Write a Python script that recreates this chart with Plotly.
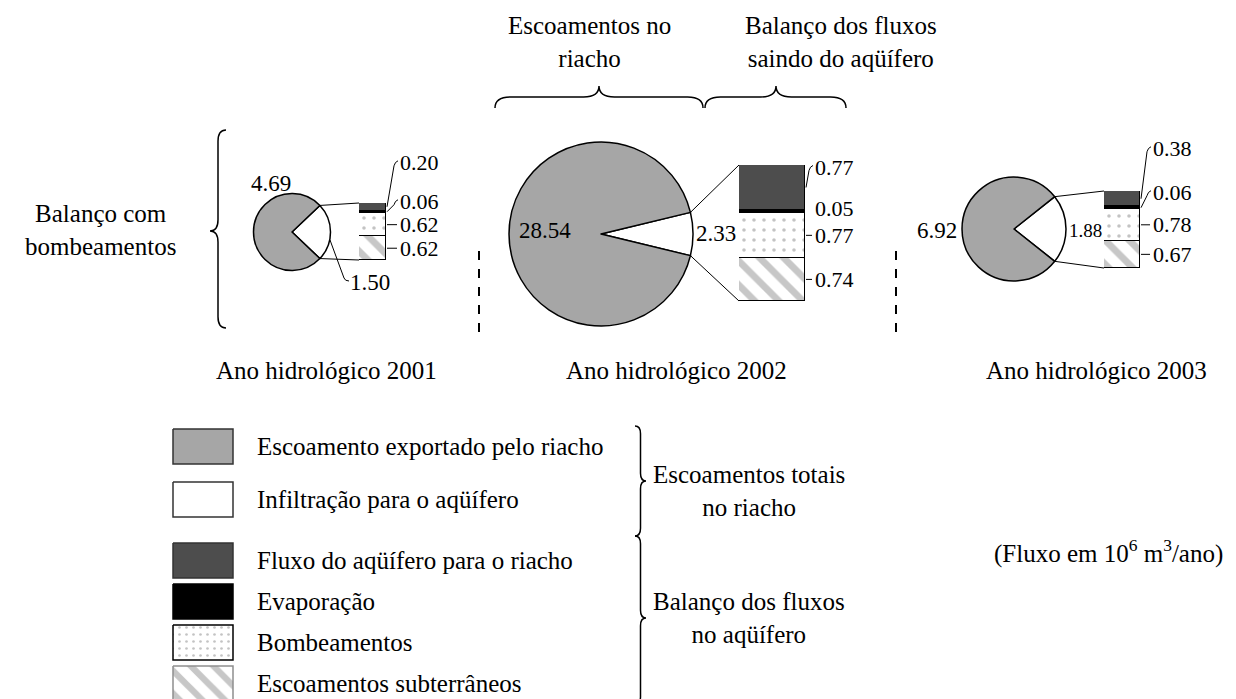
import math
import plotly.graph_objects as go

W, H = 1236, 699
FONT = "Liberation Serif"

# ---- data (10^6 m3/ano) ----
anos = ["2001", "2002", "2003"]
exportado = [4.69, 28.54, 6.92]      # Escoamento exportado pelo riacho
infiltracao = [1.50, 2.33, 1.88]     # Infiltração para o aqüífero
fluxo_riacho = [0.20, 0.77, 0.38]    # Fluxo do aqüífero para o riacho
evaporacao = [0.06, 0.05, 0.06]
bombeamentos = [0.62, 0.77, 0.78]
subterraneos = [0.62, 0.74, 0.67]

legend_names = ["Escoamento exportado pelo riacho", "Infiltração para o aqüífero",
                "Fluxo do aqüífero para o riacho", "Evaporação", "Bombeamentos",
                "Escoamentos subterrâneos"]

# ---- layout (pixels) ----
pie_c = [(284, 224, 38.5), (593, 226, 92), (1006, 221, 52)]
bar_r = [(351, 378, 195, 252), (731, 797, 157, 293), (1096, 1132, 183, 260)]
# label offsets for bar values (px, relative to segment middle)
lab_dy = [[-44, -10, 0, 0], [-20, -3, 0, 0], [-50, -15, 0, 0]]
lab_dx = [12, 8, 11]
leader = [[True, True, True, True], [True, False, True, True], [True, True, True, True]]

GRAY = "#a6a6a6"
DARK = "#4d4d4d"
HATCH = "#8f8f8f"


def px(x):
    return x / W


def py(y):
    return 1 - y / H


fig = go.Figure()
shapes = []
ann = []


def text(x, y, s, size=25, xanchor="center"):
    ann.append(dict(x=x, y=y, xref="x", yref="y", text=s, showarrow=False,
                    xanchor=xanchor, yanchor="middle",
                    font=dict(family=FONT, size=size, color="black")))


def line(x0, y0, x1, y1, w=1, dash=None):
    shapes.append(dict(type="line", xref="x", yref="y", x0=x0, y0=y0, x1=x1, y1=y1,
                       line=dict(color="black", width=w, dash=dash)))


def path(p, w=1.5):
    shapes.append(dict(type="path", xref="x", yref="y", path=p,
                       line=dict(color="black", width=w)))


def hbrace(x0, x1, xm, yb, d):
    yf, yt, q = yb - d, yb - 2 * d, d * 1.4
    return (f"M {x0},{yb} Q {x0},{yf} {x0+q},{yf} L {xm-q},{yf} Q {xm},{yf} {xm},{yt} "
            f"Q {xm},{yf} {xm+q},{yf} L {x1-q},{yf} Q {x1},{yf} {x1},{yb}")


def vbrace(xe, y0, y1, ym, d):
    xf, xt, q = xe + d, xe + 2 * d, abs(d) * 1.4
    return (f"M {xe},{y0} Q {xf},{y0} {xf},{y0+q} L {xf},{ym-q} Q {xf},{ym} {xt},{ym} "
            f"Q {xf},{ym} {xf},{ym+q} L {xf},{y1-q} Q {xf},{y1} {xe},{y1}")


# overlay pixel axis with legend swatches
sw_top = [421, 474, 535, 576, 617, 658]
sw_fill = [GRAY, "white", DARK, "black", "white", "white"]
sw_line = ["#333333", "#333333", "#333333", "black", "black", HATCH]
sw_pat = [None, None, None, None,
          dict(shape=".", fgcolor="#888888", bgcolor="white", size=7, solidity=0.12),
          dict(shape="\\", fgcolor=HATCH, bgcolor="white", size=16, solidity=0.4)]
for i, name in enumerate(legend_names):
    t = sw_top[i]
    kw = dict(fillpattern=sw_pat[i]) if sw_pat[i] else {}
    fig.add_trace(go.Scatter(x=[165, 225, 225, 165, 165], y=[t, t, t + 35, t + 35, t],
                             mode="lines", fill="toself", fillcolor=sw_fill[i],
                             line=dict(color=sw_line[i], width=1.5),
                             hoverinfo="skip", showlegend=False, xaxis="x", yaxis="y", **kw))
    text(247, t + 17.5, name, xanchor="left")

for k, ano in enumerate(anos):
    cx, cy, r = pie_c[k]
    tot = exportado[k] + infiltracao[k]
    frac = infiltracao[k] / tot
    half = frac * 180
    fig.add_trace(go.Pie(
        values=[infiltracao[k], exportado[k]], labels=["Infiltração", "Exportado"],
        sort=False, direction="clockwise", rotation=90 - half,
        marker=dict(colors=["white", GRAY], line=dict(color="black", width=1.5)),
        textinfo="none", hoverinfo="skip", showlegend=False,
        domain=dict(x=[px(cx - r), px(cx + r)], y=[py(cy + r), py(cy - r)])))

    # stacked bar for aquifer fluxes
    x0, x1, y0, y1 = bar_r[k]
    n = k + 2
    segs = [subterraneos[k], bombeamentos[k], evaporacao[k], fluxo_riacho[k]]
    cols = ["white", "white", "black", DARK]
    pats = [dict(shape="\\", fgcolor=HATCH, bgcolor="white", size=17, solidity=0.4),
            dict(shape=".", fgcolor="#888888", bgcolor="white", size=10, solidity=0.1),
            None, None]
    for s, v in enumerate(segs):
        mk = dict(color=cols[s], line=dict(color="black", width=1.5))
        if pats[s]:
            mk["pattern"] = pats[s]
        fig.add_trace(go.Bar(x=["b"], y=[v], marker=mk, xaxis=f"x{n}", yaxis=f"y{n}",
                             hoverinfo="skip", showlegend=False))
    btot = sum(segs)
    fig.update_layout(**{
        f"xaxis{n}": dict(domain=[px(x0), px(x1)], anchor=f"y{n}", visible=False, fixedrange=True),
        f"yaxis{n}": dict(domain=[py(y1), py(y0)], anchor=f"x{n}", range=[0, btot],
                          visible=False, fixedrange=True),
    })

    # connector lines from the infiltration slice to the bar
    a1 = math.radians(90 - half)
    a2 = math.radians(90 + half)
    line(cx + r * math.sin(a1), cy - r * math.cos(a1), x0, y0, w=1)
    line(cx + r * math.sin(a2), cy - r * math.cos(a2), x0, y1, w=1)

    # bar labels (top to bottom order)
    order = [fluxo_riacho[k], evaporacao[k], bombeamentos[k], subterraneos[k]]
    cum = 0
    for j, v in enumerate(order):
        mid = y0 + (cum + v / 2) / btot * (y1 - y0)
        cum += v
        ly = mid + lab_dy[k][j]
        lx = x1 + lab_dx[k]
        text(lx, ly, f"{v:.2f}", size=22, xanchor="left")
        if leader[k][j]:
            if abs(lab_dy[k][j]) > 2:
                path(f"M {x1+1},{mid} L {lx-4},{ly+3} Q {lx-3},{ly-1} {lx},{ly-2}", w=1)
            else:
                line(x1 + 1, mid, lx - 1, mid, w=1)

# pie value labels
text(263, 175, f"{exportado[0]:.2f}", size=23)
text(362, 274, f"{infiltracao[0]:.2f}", size=23)
path("M 322,232 L 336,270 Q 337,273 341,273", w=1)
text(537, 222, f"{exportado[1]:.2f}", size=23)
text(708, 225, f"{infiltracao[1]:.2f}", size=23)
text(929, 222, f"{exportado[2]:.2f}", size=23)
text(1077, 222, f"{infiltracao[2]:.2f}", size=19)

# braces and headings
path(hbrace(487, 695, 591, 100, 11))
path(hbrace(697, 838, 768, 100, 11))
text(581, 34, "Escoamentos no<br>riacho")
text(833, 34, "Balanço dos fluxos<br>saindo do aqüífero")
path(vbrace(218, 122, 320, 223, -8))
text(92, 222, "Balanço com<br>bombeamentos")

line(471, 243, 471, 330, w=2, dash="dash")
line(888, 243, 888, 330, w=2, dash="dash")

for k, xc in enumerate([318, 668, 1088]):
    text(xc, 362, f"Ano hidrológico {anos[k]}")

path(vbrace(627, 418, 528, 473, 5.5))
path(vbrace(627, 528, 697, 610, 5.5))
text(643, 483, "Escoamentos totais<br>no riacho", xanchor="left")
text(643, 610, "Balanço dos fluxos<br>no aqüífero", xanchor="left")
text(1100, 543, "(Fluxo em 10<sup>6</sup> m<sup>3</sup>/ano)")

fig.update_layout(
    width=W, height=H, margin=dict(l=0, r=0, t=0, b=0),
    paper_bgcolor="white", plot_bgcolor="white",
    barmode="stack", bargap=0, showlegend=False,
    xaxis=dict(range=[0, W], domain=[0, 1], visible=False, fixedrange=True),
    yaxis=dict(range=[H, 0], domain=[0, 1], visible=False, fixedrange=True),
    shapes=shapes, annotations=ann,
)

fig.write_html("out.html")
